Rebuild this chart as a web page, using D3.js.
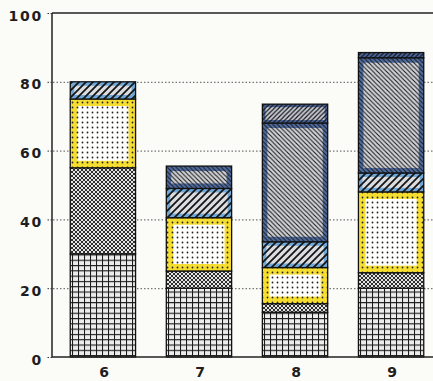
<!DOCTYPE html>
<html><head><meta charset="utf-8">
<script src="https://cdn.jsdelivr.net/npm/d3@7"></script>
<style>
html,body{margin:0;padding:0;background:#fbfbf8;}
svg{display:block;}
.lbl{font-family:"DejaVu Sans",sans-serif;font-weight:bold;font-size:14px;fill:#1e1e1e;letter-spacing:1.8px;}
</style></head>
<body><svg id="c" width="433" height="381"></svg>
<script>
const categories = ["6","7","8","9"];
const gridVals  = [30, 20, 13, 20];
const crossVals = [25, 5, 2.5, 4.5];
const dotVals   = [20, 15.5, 10.5, 23.5];
const wideVals  = [5, 8.5, 7.5, 5.5];
const denseVals = [0, 6.5, 34.5, 33.5];
const topVals   = [0, 0, 5.5, 1.5];
const yTicks = [0, 20, 40, 60, 80, 100];

const keys = ["grid","cross","dots","wide","dense","top"];
const table = categories.map((c,i)=>({cat:c, grid:gridVals[i], cross:crossVals[i], dots:dotVals[i], wide:wideVals[i], dense:denseVals[i], top:topVals[i]}));

const svg = d3.select("#c");
const W = 433, H = 381;
const x = d3.scaleBand().domain(categories).range([52, 442]).paddingInner(0.32).paddingOuter(0.19);
const y = d3.scaleLinear().domain([0,100]).range([357, 13]);

const defs = svg.append("defs");
function pat(id, w, h, draw, bg){
  const p = defs.append("pattern").attr("id", id).attr("patternUnits","userSpaceOnUse").attr("width", w).attr("height", h);
  if (bg) p.append("rect").attr("width", w).attr("height", h).attr("fill", bg);
  draw(p);
}
pat("pGrid", 6, 5.3, p=>{
  p.append("path").attr("d","M0,0.5H6 M0.5,0V5.3").attr("stroke","#1a1a1a").attr("stroke-width",1.1);
}, "#ececec");
pat("pCross", 4, 4, p=>{
  p.append("path").attr("d","M0,0L4,4 M4,0L0,4 M-1,3L1,5 M3,-1L5,1 M-1,1L1,-1 M3,5L5,3").attr("stroke","#1a1a1a").attr("stroke-width",0.9);
}, "#e4e4e4");
pat("pDots", 5, 5, p=>{
  p.append("circle").attr("cx",2.5).attr("cy",2.5).attr("r",0.9).attr("fill","#222");
}, null);
pat("pWide", 7, 7, p=>{
  p.append("path").attr("d","M0,7L7,0 M-2,2L2,-2 M5,9L9,5").attr("stroke","#151515").attr("stroke-width",1.8);
}, null);
pat("pDense", 4.5, 4.5, p=>{
  p.append("path").attr("d","M0,0L4.5,4.5 M-1,3.5L1,5.5 M3.5,-1L5.5,1").attr("stroke","#1a1a1a").attr("stroke-width",1.1);
}, null);
pat("pTop", 4.5, 4.5, p=>{
  p.append("path").attr("d","M0,4.5L4.5,0 M-1,1L1,-1 M3.5,5.5L5.5,3.5").attr("stroke","#151515").attr("stroke-width",1.2);
}, null);

const style = {
  grid:  {pat:"pGrid",  bg:"#ececec", border:null, bw:0},
  cross: {pat:"pCross", bg:"#e4e4e4", border:null, bw:0},
  dots:  {pat:"pDots",  bg:"#fdfdfb", border:"#f4d80c", bw:7},
  wide:  {pat:"pWide",  bg:"#dcdde0", border:"#5c9fd6", bw:4},
  dense: {pat:"pDense", bg:"#d2d4d8", border:"#3a5c9c", bw:5},
  top:   {pat:"pTop",   bg:"#c8ccd6", border:"#345596", bw:3}
};

// gridlines
svg.append("g").selectAll("line").data(yTicks.filter(d=>d>0 && d<100)).join("line")
  .attr("x1", 53).attr("x2", W).attr("y1", d=>y(d)+0.5).attr("y2", d=>y(d)+0.5)
  .attr("stroke","#555").attr("stroke-width",1).attr("stroke-dasharray","1.5,2");

const series = d3.stack().keys(keys)(table);
const gBars = svg.append("g");
series.forEach(s=>{
  const st = style[s.key];
  s.forEach(d=>{
    const v = d[1]-d[0];
    if (v <= 0) return;
    const bx = x(d.data.cat), bw = x.bandwidth();
    const ty = y(d[1]), hh = y(d[0]) - y(d[1]);
    const g = gBars.append("g");
    g.append("rect").attr("x",bx).attr("y",ty).attr("width",bw).attr("height",hh).attr("fill",st.bg);
    if (st.border) {
      const ins = Math.min(st.bw/2, hh/2);
      g.append("rect").attr("x",bx+ins).attr("y",ty+ins).attr("width",Math.max(0,bw-2*ins)).attr("height",Math.max(0,hh-2*ins))
        .attr("fill","none").attr("stroke",st.border).attr("stroke-width",Math.min(st.bw, hh)).attr("opacity",0.85);
    }
    g.append("rect").attr("x",bx).attr("y",ty).attr("width",bw).attr("height",hh).attr("fill",`url(#${st.pat})`);
    g.append("rect").attr("x",bx).attr("y",ty).attr("width",bw).attr("height",hh).attr("fill","none").attr("stroke","#111").attr("stroke-width",1.3);
  });
});

// axes frame
svg.append("line").attr("x1",52).attr("x2",52).attr("y1",y(100)).attr("y2",y(0)).attr("stroke","#222").attr("stroke-width",1.5);
svg.append("line").attr("x1",52).attr("x2",W).attr("y1",y(100)).attr("y2",y(100)).attr("stroke","#222").attr("stroke-width",1.5);
svg.append("line").attr("x1",52).attr("x2",W).attr("y1",y(0)).attr("y2",y(0)).attr("stroke","#222").attr("stroke-width",1.5);

// y axis ticks and labels
const yAxis = d3.axisLeft(y).tickValues(yTicks).tickSize(5).tickPadding(4);
const ga = svg.append("g").attr("transform","translate(52,0)").call(yAxis);
ga.select(".domain").remove();
ga.selectAll(".tick line").attr("stroke","#333").attr("stroke-dasharray","1.5,1.5");
ga.selectAll(".tick text").attr("class","lbl").attr("font-size",null).attr("font-family",null).attr("dy","0.5em");

// x axis labels
const xAxis = d3.axisBottom(x).tickSize(0).tickPadding(10);
const gx = svg.append("g").attr("transform",`translate(2,${y(0)})`).call(xAxis);
gx.select(".domain").remove();
gx.selectAll(".tick text").attr("class","lbl").attr("font-size",null).attr("font-family",null);
</script></body></html>
